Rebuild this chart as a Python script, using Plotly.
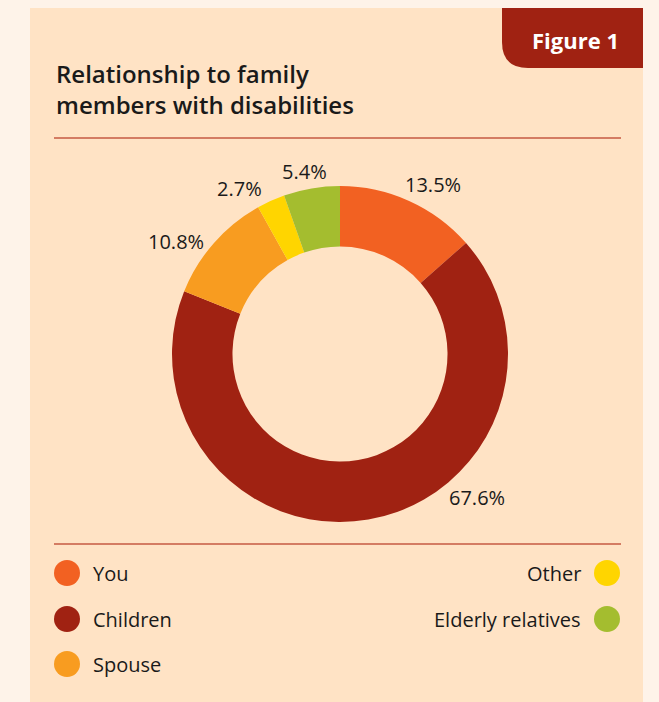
import plotly.graph_objects as go

# ---- data ----
categories = ["You", "Children", "Spouse", "Other", "Elderly relatives"]
values = [13.5, 67.6, 10.8, 2.7, 5.4]
colors = ["#F26122", "#A02212", "#F89C20", "#FFD500", "#A4BD2F"]
title_text = "Relationship to family<br>members with disabilities"
badge_text = "Figure 1"

W, H = 659, 702
def px(x): return x / W
def py(y): return 1 - y / H

FONT = "Open Sans"
TXT = "#1A1A1A"

fig = go.Figure()
cx, cy, R = 340, 354, 168
fig.add_trace(go.Pie(
    labels=categories, values=values, sort=False, direction="clockwise", rotation=0,
    hole=0.64, marker=dict(colors=colors, line=dict(width=0)),
    textinfo="none", hoverinfo="label+percent", showlegend=False,
    domain=dict(x=[px(cx - R), px(cx + R)], y=[py(cy + R), py(cy - R)]),
))

shapes = []
annotations = []
# outer panel
shapes.append(dict(type="rect", xref="paper", yref="paper", x0=px(30), x1=px(643), y0=py(720), y1=py(8),
                   fillcolor="#FFE3C5", line=dict(width=0), layer="below"))
# figure badge with rounded bottom-left corner
bx0, bx1, by0, by1, r = 502, 643, 8, 68, 26
path = (f"M {px(bx0)},{py(by0)} L {px(bx1)},{py(by0)} L {px(bx1)},{py(by1)} "
        f"L {px(bx0 + r)},{py(by1)} Q {px(bx0)},{py(by1)} {px(bx0)},{py(by1 - r)} Z")
shapes.append(dict(type="path", xref="paper", yref="paper", path=path, fillcolor="#A02212",
                   line=dict(width=0), layer="below"))
annotations.append(dict(text=badge_text, xref="paper", yref="paper", x=px(621), y=py(40),
                        xanchor="right", yanchor="middle", showarrow=False,
                        font=dict(family=FONT, size=22, color="white", weight=700)))
# title
annotations.append(dict(text=title_text, xref="paper", yref="paper", x=px(54), y=py(55),
                        xanchor="left", yanchor="top", align="left", showarrow=False,
                        font=dict(family=FONT, size=24, color=TXT, weight=600)))
# dividers
for yy in (138, 544):
    shapes.append(dict(type="line", xref="paper", yref="paper", x0=px(54), x1=px(621), y0=py(yy), y1=py(yy),
                       line=dict(color="#C65A42", width=1.5), layer="below"))

# slice value labels
label_pos = [(433, 184), (477, 497), (176, 241), (239, 188), (304, 171)]
for v, (lx, ly) in zip(values, label_pos):
    annotations.append(dict(text=f"{v:.1f}%", xref="paper", yref="paper", x=px(lx), y=py(ly),
                            xanchor="center", yanchor="middle", showarrow=False,
                            font=dict(family=FONT, size=20, color=TXT)))

# custom legend
legend_pos = [("L", 573), ("L", 619), ("L", 664), ("R", 573), ("R", 619)]
rad = 13
for name, col, (side, ly) in zip(categories, colors, legend_pos):
    mx = 67 if side == "L" else 607
    shapes.append(dict(type="circle", xref="paper", yref="paper", x0=px(mx - rad), x1=px(mx + rad),
                       y0=py(ly + rad), y1=py(ly - rad), fillcolor=col, line=dict(width=0)))
    if side == "L":
        annotations.append(dict(text=name, xref="paper", yref="paper", x=px(91), y=py(ly),
                                xanchor="left", yanchor="middle", showarrow=False,
                                font=dict(family=FONT, size=20, color=TXT)))
    else:
        annotations.append(dict(text=name, xref="paper", yref="paper", x=px(583), y=py(ly),
                                xanchor="right", yanchor="middle", showarrow=False,
                                font=dict(family=FONT, size=20, color=TXT)))

fig.update_layout(width=W, height=H, margin=dict(l=0, r=0, t=0, b=0),
                  paper_bgcolor="#FEF3E9", plot_bgcolor="rgba(0,0,0,0)",
                  shapes=shapes, annotations=annotations)
fig.write_html("out.html")
